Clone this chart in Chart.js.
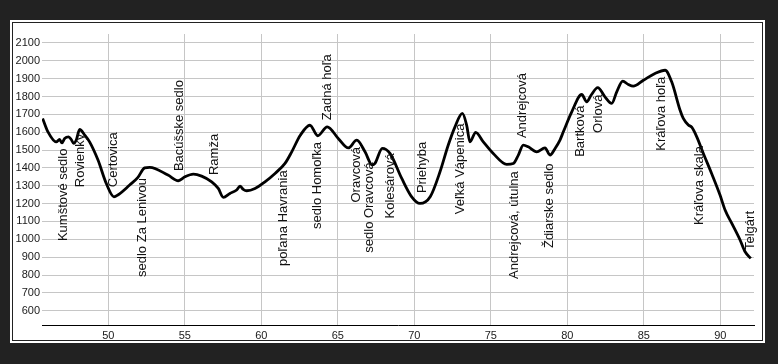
<!DOCTYPE html>
<html>
<head>
<meta charset="utf-8">
<script src="https://cdn.jsdelivr.net/npm/chart.js@4/dist/chart.umd.min.js"></script>
<style>
  body { margin: 0; background: #222222; }
  .frame {
    position: absolute;
    left: 10px;
    top: 20px;
    border: 2px solid #ffffff;
    padding: 1px;
    background: #222222;
  }
  .panel { width: 749px; height: 317px; background: #ffffff; position: relative; }
</style>
</head>
<body>
<div class="frame">
  <div class="panel"><canvas id="profile"></canvas></div>
</div>
<script>
// elevation profile: distance (km) and elevation (m)
const distKm = [
  45.71, 46.06, 46.60, 46.82, 46.97, 47.15, 47.41, 47.58, 47.74, 47.91,
  48.13, 48.46, 48.78, 49.33, 49.87, 50.37, 50.63, 51.40, 51.94, 52.38,
  52.71, 53.90, 54.58, 55.01, 55.56, 56.10, 56.76, 57.19, 57.52, 57.95,
  58.39, 58.61, 58.82, 59.05, 59.59, 60.24, 60.90, 61.55, 61.99, 62.55,
  63.18, 63.69, 64.31, 65.03, 65.69, 66.24, 66.78, 67.25, 67.43, 67.91,
  68.41, 69.18, 69.83, 70.37, 71.05, 71.68, 72.22, 72.66, 73.14, 73.42,
  73.64, 74.01, 74.51, 75.16, 76.04, 76.47, 76.80, 77.12, 77.45, 78.00,
  78.54, 78.87, 79.20, 79.52, 79.74, 80.29, 80.94, 81.27, 81.55, 81.99,
  82.46, 82.90, 83.23, 83.62, 83.99, 84.31, 84.97, 85.73, 86.39, 86.82,
  87.37, 87.58, 87.91, 88.13, 88.46, 88.89, 89.43, 89.98, 90.31, 90.75,
  91.29, 91.62, 91.99
];
const elevM = [
  1677, 1602, 1546, 1559, 1540, 1565, 1574, 1559, 1537, 1556,
  1615, 1584, 1546, 1444, 1313, 1238, 1248, 1304, 1347, 1400,
  1403, 1360, 1328, 1350, 1365, 1354, 1322, 1285, 1235, 1257,
  1276, 1298, 1280, 1272, 1285, 1322, 1369, 1425, 1490, 1583,
  1639, 1580, 1630, 1565, 1512, 1555, 1490, 1416, 1425, 1509,
  1481, 1341, 1238, 1201, 1240, 1378, 1528, 1630, 1705, 1640,
  1546, 1599, 1546, 1481, 1420, 1425, 1472, 1528, 1518, 1490,
  1512, 1472, 1509, 1556, 1602, 1714, 1811, 1770, 1807, 1850,
  1798, 1761, 1826, 1886, 1867, 1858, 1891, 1929, 1947, 1882,
  1723, 1677, 1640, 1628, 1574, 1481, 1369, 1248, 1164, 1089,
  996, 930, 893
];

// waypoint names, their km, and the elevation where each label starts
const wayNames = [
  "Kumštové sedlo", "Rovienky", "Čertovica", "sedlo Za Lenivou", "Bacúšske sedlo",
  "Ramža", "poľana Havrania", "sedlo Homoľka", "Zadná hoľa", "Oravcová",
  "sedlo Oravcová", "Kolesárová", "Priehyba", "Veľká Vápenica", "Andrejcová, útulna",
  "Andrejcová", "Ždiarske sedlo", "Bartková", "Orlová", "Kráľova hoľa",
  "Kráľova skala", "Telgárt"
];
const wayKm = [
  47.07, 48.18, 50.34, 52.24, 54.62,
  56.94, 61.45, 63.67, 64.29, 66.19,
  67.07, 68.41, 70.50, 72.99, 76.52,
  77.04, 78.81, 80.84, 82.02, 86.14,
  88.63, 91.96
];
const wayLabelElev = [
  990, 1292, 1292, 789, 1382,
  1360, 851, 1058, 1667, 1206,
  925, 1117, 1259, 1141, 778,
  1567, 951, 1462, 1596, 1496,
  1080, 940
];

const xTicks = [50, 55, 60, 65, 70, 75, 80, 85, 90];
const yTicks = [600, 700, 800, 900, 1000, 1100, 1200, 1300, 1400, 1500, 1600, 1700, 1800, 1900, 2000, 2100];

const waypointLabels = {
  id: "waypointLabels",
  afterDatasetsDraw(chart) {
    const ctx = chart.ctx;
    const xs = chart.scales.x;
    const ys = chart.scales.y;
    ctx.save();
    ctx.font = '13px "Liberation Sans", Arial, sans-serif';
    ctx.fillStyle = "#111111";
    ctx.textAlign = "left";
    ctx.textBaseline = "middle";
    wayNames.forEach((name, i) => {
      const px = xs.getPixelForValue(wayKm[i]);
      const py = ys.getPixelForValue(wayLabelElev[i]);
      ctx.save();
      ctx.translate(px, py);
      ctx.rotate(-Math.PI / 2);
      ctx.fillText(name, 0, 0);
      ctx.restore();
    });
    ctx.restore();
  }
};

const points = distKm.map((km, i) => ({ x: km, y: elevM[i] }));
const tickFont = { family: '"Liberation Sans", Arial, sans-serif', size: 11 };

new Chart(document.getElementById("profile"), {
  type: "line",
  data: {
    datasets: [{
      data: points,
      borderColor: "#000000",
      borderWidth: 2.8,
      pointRadius: 0,
      fill: false,
      cubicInterpolationMode: "monotone"
    }]
  },
  options: {
    responsive: true,
    maintainAspectRatio: false,
    animation: false,
    layout: { padding: { left: 0, right: 8, top: 11, bottom: 0 } },
    plugins: { legend: { display: false }, tooltip: { enabled: false } },
    scales: {
      x: {
        type: "linear",
        min: 45.67,
        max: 92.2,
        afterBuildTicks: (scale) => { scale.ticks = xTicks.map((v) => ({ value: v })); },
        afterFit: (scale) => { scale.height = 15; },
        grid: { color: "#c6c6c6", drawTicks: false },
        border: { display: true, color: "#000000", width: 1 },
        ticks: {
          padding: 4,
          color: "#1a1a1a",
          font: tickFont,
          maxRotation: 0,
          callback: (v) => String(v)
        }
      },
      y: {
        min: 520,
        max: 2150,
        afterBuildTicks: (scale) => { scale.ticks = yTicks.map((v) => ({ value: v })); },
        afterFit: (scale) => { scale.width = 29; },
        grid: { color: "#c6c6c6", drawTicks: false },
        border: { display: false },
        ticks: {
          padding: 2,
          color: "#1a1a1a",
          font: tickFont,
          callback: (v) => String(v)
        }
      }
    }
  },
  plugins: [waypointLabels]
});
</script>
</body>
</html>
